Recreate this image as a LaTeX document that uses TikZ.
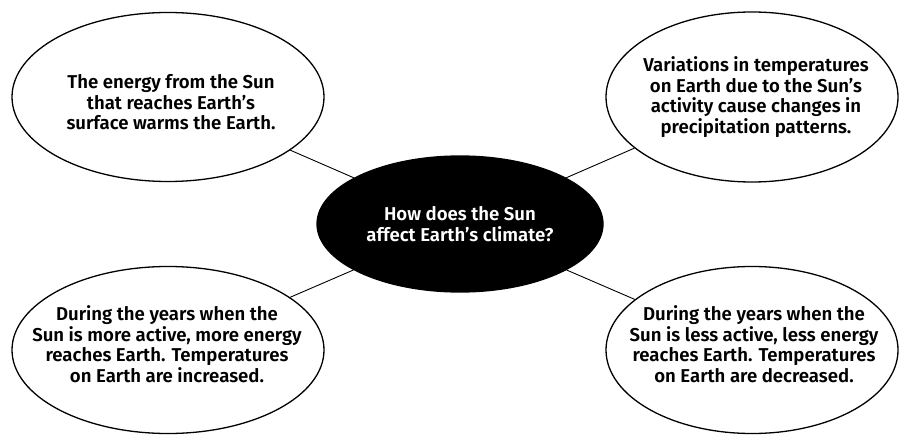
\documentclass[tikz,border=0pt]{standalone}
\usepackage{fontspec}
\setmainfont{Fira Sans}[BoldFont={Fira Sans SemiBold}]
\usetikzlibrary{shapes.geometric}

\begin{document}
\begin{tikzpicture}[x=1pt,
y=1pt,
every node/.style={
align = center,
font=\fontsize{18.6}{20.6}\selectfont\bfseries,
},
bubble/.style={
draw,
ellipse,
line width=1.3pt,
inner sep=0pt,
},
hub/.style={
bubble,
fill=black,
text=white,
},
link/.style={
draw,
line width=0.9pt,
}]
\useasboundingbox (0,0) rectangle (901,434);

%question in the middle
\node[hub,minimum width=286,minimum height=136] (sun) at (460,210) {How does the Sun\\affect Earth's climate?};

%four answers
\node[bubble,minimum width=312,minimum height=169] (warm) at (168,337) {};
\node (warmtxt) at (171,331.5) {The energy from the Sun\\that reaches Earth's\\surface warms the Earth.};
\node[bubble,minimum width=292,minimum height=170] (rain) at (752,337) {};
\node (raintxt) at (756,337) {Variations in temperatures\\on Earth due to the Sun's\\activity cause changes in\\precipitation patterns.};
\node[bubble,minimum width=312,minimum height=167] (more) at (168,84) {};
\node (moretxt) at (167,90) {During the years when the\\Sun is more active, more energy\\reaches Earth. Temperatures\\on Earth are increased.};
\node[bubble,minimum width=292,minimum height=167] (less) at (752,84) {};
\node (lesstxt) at (754,90) {During the years when the\\Sun is less active, less energy\\reaches Earth. Temperatures\\on Earth are decreased.};

\path[link] (sun) -- (warm);
\path[link] (sun) -- (rain);
\path[link] (sun) -- (more);
\path[link] (sun) -- (less);
\end{tikzpicture}
\end{document}
